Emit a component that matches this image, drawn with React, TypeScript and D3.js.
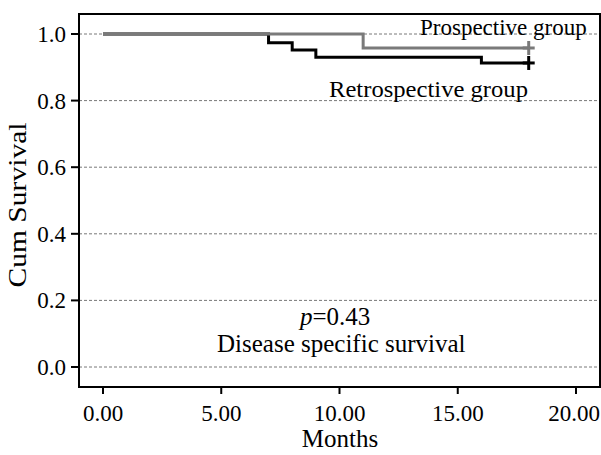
import React from "react";
import * as d3 from "d3";

// Kaplan-Meier step data: [month, cumulative survival]
const prospectiveSteps: [number, number][] = [
  [0, 1.0],
  [11, 1.0],
  [11, 0.958],
  [18, 0.958],
];
const retrospectiveSteps: [number, number][] = [
  [0, 1.0],
  [7, 1.0],
  [7, 0.974],
  [8, 0.974],
  [8, 0.952],
  [9, 0.952],
  [9, 0.93],
  [16, 0.93],
  [16, 0.913],
  [18, 0.913],
];
const censorPoints = [
  { name: "Retrospective", month: 18, value: 0.913 },
  { name: "Prospective", month: 18, value: 0.958 },
];
const xTicks = [0, 5, 10, 15, 20];
const yTicks = [0, 0.2, 0.4, 0.6, 0.8, 1.0];

const W = 601;
const H = 455;
const frame = { left: 79, right: 600, top: 14, bottom: 387 };
const font = "'Liberation Serif', 'Times New Roman', serif";

const App: React.FC = () => {
  const x = d3.scaleLinear().domain([0, 20]).range([103, 576]);
  const y = d3.scaleLinear().domain([0, 1]).range([367, 34]);

  const line = d3
    .line<[number, number]>()
    .x((d) => x(d[0]))
    .y((d) => y(d[1]));

  return (
    <svg
      width={W}
      height={H}
      style={{ position: "absolute", left: 0, top: 0, background: "#fff" }}
      fontFamily={font}
    >
      {/* grid lines */}
      {yTicks.map((t) => (
        <line
          key={"g" + t}
          x1={frame.left}
          x2={frame.right}
          y1={y(t)}
          y2={y(t)}
          stroke="#555"
          strokeWidth={0.8}
          strokeDasharray="3,2"
        />
      ))}

      {/* curves: retrospective first so the grey line sits on top */}
      <path d={line(retrospectiveSteps) || ""} fill="none" stroke="#000" strokeWidth={3} />
      <path d={line(prospectiveSteps) || ""} fill="none" stroke="#7a7a7a" strokeWidth={3} />
      {censorPoints.map((c) => (
        <g key={c.name} stroke={c.name === "Prospective" ? "#7a7a7a" : "#000"} strokeWidth={3}>
          <line x1={x(c.month) - 6} x2={x(c.month) + 6} y1={y(c.value)} y2={y(c.value)} />
          <line x1={x(c.month)} x2={x(c.month)} y1={y(c.value) - 7} y2={y(c.value) + 7} />
        </g>
      ))}

      {/* frame */}
      <rect
        x={frame.left}
        y={frame.top}
        width={frame.right - frame.left}
        height={frame.bottom - frame.top}
        fill="none"
        stroke="#000"
        strokeWidth={2}
      />

      {/* y axis */}
      {yTicks.map((t) => (
        <g key={"y" + t}>
          <line x1={frame.left - 8} x2={frame.left} y1={y(t)} y2={y(t)} stroke="#000" strokeWidth={2} />
          <text x={frame.left - 13} y={y(t)} dy="0.35em" textAnchor="end" fontSize={23}>
            {t.toFixed(1)}
          </text>
        </g>
      ))}

      {/* x axis */}
      {xTicks.map((t) => (
        <g key={"x" + t}>
          <line x1={x(t)} x2={x(t)} y1={frame.bottom} y2={frame.bottom + 7} stroke="#000" strokeWidth={2} />
          <text
            x={t === 20 ? x(t) - 2 : x(t)}
            y={frame.bottom + 34}
            textAnchor="middle"
            fontSize={23}
          >
            {t.toFixed(2)}
          </text>
        </g>
      ))}

      <text x={340} y={447} textAnchor="middle" fontSize={25}>
        Months
      </text>
      <text
        transform={`translate(26, 205) rotate(-90)`}
        textAnchor="middle"
        fontSize={25}
        textLength={165}
        lengthAdjust="spacingAndGlyphs"
      >
        Cum Survival
      </text>

      {/* annotations */}
      <text x={420} y={35} fontSize={23}>
        Prospective group
      </text>
      <text x={329} y={97} fontSize={23} textLength={199} lengthAdjust="spacingAndGlyphs">
        Retrospective group
      </text>
      <text x={300} y={325} fontSize={25}>
        <tspan fontStyle="italic">p</tspan>=0.43
      </text>
      <text x={217} y={352} fontSize={25}>
        Disease specific survival
      </text>
    </svg>
  );
};

export default App;
